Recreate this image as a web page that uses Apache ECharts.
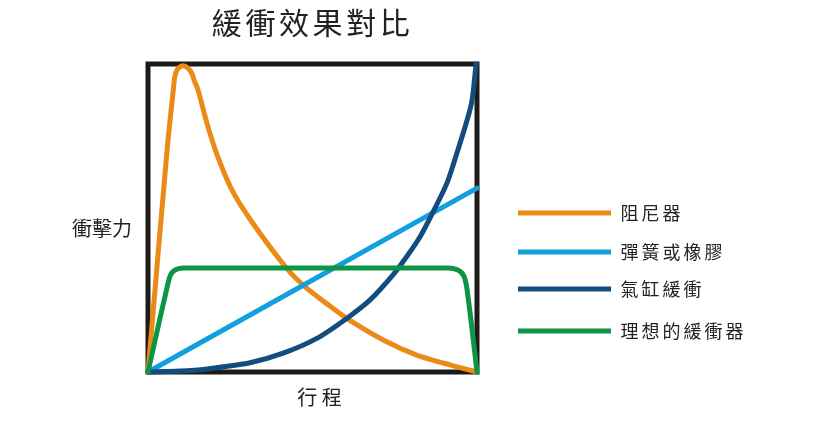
<!DOCTYPE html>
<html>
<head>
<meta charset="utf-8">
<script src="https://cdn.jsdelivr.net/npm/echarts@6/dist/echarts.min.js"></script>
<style>
  html, body { margin: 0; padding: 0; background: #fff; }
  #chart { width: 813px; height: 425px; }
</style>
</head>
<body>
<div id="chart"></div>
<script>
// curves, x = stroke (0-100), y = impact force (0-100)
const damper = [
  [0, 0], [5.8, 72], [7.75, 92.2], [8.2, 96.1], [9.0, 98.4], [10.6, 99.4],
  [12.3, 98.5], [13.4, 96.8], [14.0, 94.8], [15.2, 91.6], [17.9, 80.8],
  [21.0, 70.5], [25.5, 59.1], [31.6, 48.7], [42.2, 33.6], [48.2, 27.2],
  [55.3, 21.4], [60.4, 17.4], [71.5, 10.4], [81.7, 5.5], [91.8, 2.3], [100, 0]
];
const spring = [[0, 0], [100, 59.7]];
const airCylinder = [
  [0, 0], [9.7, 0.3], [17.9, 1.0], [31.0, 3.0], [41.1, 6.1], [51.3, 10.9],
  [60.4, 17.4], [67.5, 23.4], [74.6, 31.7], [78.6, 37.4], [82.7, 43.9],
  [86.2, 51.0], [90.9, 61.4], [93.9, 71.1], [97.0, 81.8], [98.5, 88.3], [99.7, 100]
];
const ideal = [
  [0, 0], [6.1, 28.9], [7, 31.8], [8.5, 33.3], [10.9, 33.8], [91.2, 33.8],
  [94.2, 33.1], [96, 31.2], [97, 26.6], [100, 0]
];

const names = ['阻尼器', '彈簧或橡膠', '氣缸緩衝', '理想的緩衝器'];
const colors = ['#ec8a17', '#11a0dc', '#134d80', '#0c9546'];
const legendTops = [199, 238, 275, 317];

const font = '"Noto Sans CJK TC", "Noto Sans", sans-serif';
// wrap each character so rich-text padding can space the letters out
const spaced = s => s.split('').map(c => '{c|' + c + '}').join('');

const chart = echarts.init(document.getElementById('chart'));

function line(name, data, color, smooth) {
  return {
    name, type: 'line', data, smooth, showSymbol: false, clip: false,
    lineStyle: { color, width: 5, cap: 'round', join: 'round' }, itemStyle: { color },
    z: 3
  };
}

chart.setOption({
  animation: false,
  title: {
    text: spaced('緩衝效果對比'),
    left: 205, top: 3,
    textStyle: {
      fontFamily: font, fontSize: 30, fontWeight: 'normal', color: '#222',
      rich: { c: { fontFamily: font, fontSize: 30, color: '#222', padding: [0, 1.8, 0, 1.8] } }
    }
  },
  legend: names.map((n, i) => ({
    data: [n],
    left: 513, top: legendTops[i],
    icon: 'rect', itemWidth: 93, itemHeight: 5,
    formatter: spaced,
    textStyle: {
      fontFamily: font, fontSize: 18, color: '#222', padding: [0, 0, 0, 3],
      rich: { c: { fontFamily: font, fontSize: 18, color: '#222', padding: [0, 1.5, 0, 1.5] } }
    }
  })),
  grid: {
    left: 148, top: 64, width: 329, height: 308,
    show: true, borderColor: '#1e1a17', borderWidth: 5
  },
  xAxis: {
    type: 'value', min: 0, max: 100,
    name: '行 程', nameLocation: 'middle', nameGap: 15,
    nameTextStyle: { fontFamily: font, fontSize: 20, color: '#222', padding: [0, 0, 0, 14] },
    axisLine: { show: false }, axisTick: { show: false },
    axisLabel: { show: false }, splitLine: { show: false }
  },
  yAxis: {
    type: 'value', min: 0, max: 100,
    name: '衝擊力', nameLocation: 'middle', nameRotate: 0, nameGap: 16,
    nameTextStyle: { fontFamily: font, fontSize: 20, color: '#222', align: 'right', verticalAlign: 'top' },
    axisLine: { show: false }, axisTick: { show: false },
    axisLabel: { show: false }, splitLine: { show: false }
  },
  series: [
    line(names[0], damper, colors[0], 0.25),
    line(names[1], spring, colors[1], false),
    line(names[2], airCylinder, colors[2], 0.25),
    line(names[3], ideal, colors[3], 0.3)
  ]
});
</script>
</body>
</html>
